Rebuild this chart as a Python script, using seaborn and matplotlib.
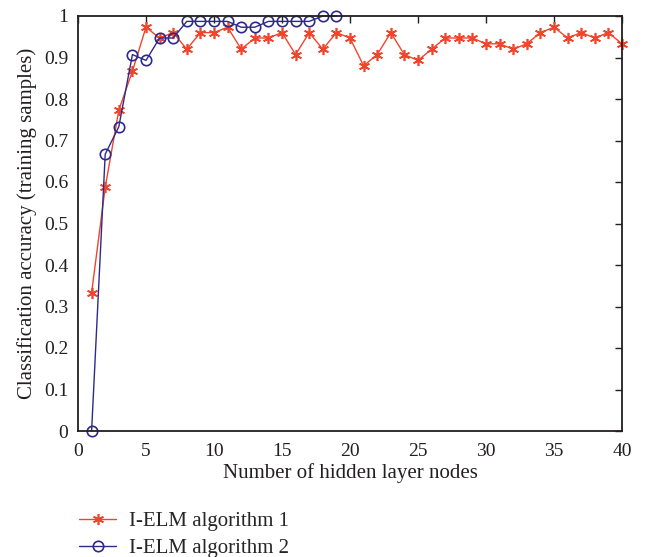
import matplotlib
matplotlib.use("Agg")
import matplotlib.pyplot as plt
import seaborn as sns
import pandas as pd

nodes1 = list(range(1, 41))
acc1 = [0.333, 0.587, 0.773, 0.867, 0.973, 0.947, 0.960, 0.920, 0.960, 0.960,
        0.973, 0.920, 0.947, 0.947, 0.960, 0.907, 0.960, 0.920, 0.960, 0.947,
        0.880, 0.907, 0.960, 0.907, 0.893, 0.920, 0.947, 0.947, 0.947, 0.933,
        0.933, 0.920, 0.933, 0.960, 0.973, 0.947, 0.960, 0.947, 0.960, 0.933]
nodes2 = list(range(1, 20))
acc2 = [0.0, 0.667, 0.733, 0.907, 0.893, 0.947, 0.947, 0.987, 0.987, 0.987,
        0.987, 0.973, 0.973, 0.987, 0.987, 0.987, 0.987, 1.0, 1.0]
label1 = "I-ELM algorithm 1"
label2 = "I-ELM algorithm 2"
xticks = list(range(0, 41, 5))
yticks = [0, 0.1, 0.2, 0.3, 0.4, 0.5, 0.6, 0.7, 0.8, 0.9, 1]
yticklabels = ["0", "0.1", "0.2", "0.3", "0.4", "0.5", "0.6", "0.7", "0.8", "0.9", "1"]

sns.set_style("white")
plt.rcParams['font.family'] = ['Liberation Serif', 'DejaVu Serif']

red = "#f0452d"
blue = "#2e2a8c"
textc = "#231f20"

fig = plt.figure(figsize=(6.46, 5.57), dpi=100)
ax = fig.add_axes([78/646, 1-431/557, (622-78)/646, (431-16)/557])

df1 = pd.DataFrame({"x": nodes1, "y": acc1})
df2 = pd.DataFrame({"x": nodes2, "y": acc2})
sns.lineplot(data=df1, x="x", y="y", ax=ax, color=red, marker=(6, 2, 0), markersize=8,
             markeredgewidth=1.2, markeredgecolor=red, linewidth=1.0, label=label1,
             clip_on=False)
sns.lineplot(data=df2, x="x", y="y", ax=ax, color=blue, marker="o", markersize=7.5,
             markerfacecolor="none", markeredgecolor=blue, markeredgewidth=1.2,
             linewidth=1.0, label=label2, clip_on=False)

ax.set_xlim(0, 40)
ax.set_ylim(0, 1)
ax.set_xticks(xticks)
ax.set_yticks(yticks)
ax.set_yticklabels(yticklabels)
ax.tick_params(axis='both', which='both', direction='in', top=True, right=True,
               length=5, width=1, labelsize=14, colors=textc, pad=7)
ax.tick_params(axis='x', pad=9)
for s in ax.spines.values():
    s.set_color(textc)
    s.set_linewidth(1.3)
ax.set_xlabel("Number of hidden layer nodes", fontsize=15, color=textc, labelpad=2)
ax.set_ylabel("Classification accuracy (training samples)", fontsize=15, color=textc, labelpad=5)

h, l = ax.get_legend_handles_labels()
ax.get_legend().remove()
fig.legend(h, l, loc='upper left', bbox_to_anchor=(60/646, 1-493/557), frameon=False,
           fontsize=15, handlelength=1.8, labelspacing=0.35, handletextpad=0.6)

fig.savefig("out.png", dpi=100)
